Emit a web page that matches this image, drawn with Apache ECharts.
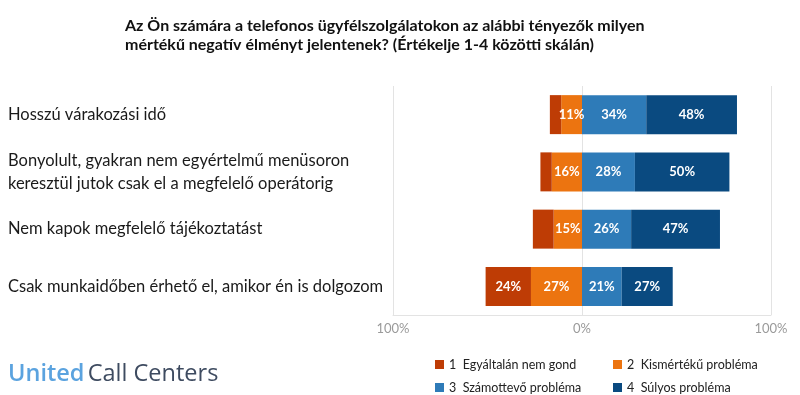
<!DOCTYPE html>
<html>
<head>
<meta charset="utf-8">
<script src="https://cdn.jsdelivr.net/npm/echarts@6/dist/echarts.min.js"></script>
<style>
html,body{margin:0;padding:0;background:#fff;}
#chart{width:800px;height:395px;}
</style>
</head>
<body>
<div id="chart"></div>
<script>
var titleText = 'Az Ön számára a telefonos ügyfélszolgálatokon az alábbi tényezők milyen\nmértékű negatív élményt jelentenek? (Értékelje 1-4 közötti skálán)';
var categories = [
  'Hosszú várakozási idő',
  'Bonyolult, gyakran nem egyértelmű menüsoron\nkeresztül jutok csak el a megfelelő operátorig',
  'Nem kapok megfelelő tájékoztatást',
  'Csak munkaidőben érhető el, amikor én is dolgozom'
];
var seriesNames = ['1  Egyáltalán nem gond', '2  Kismértékű probléma', '3  Számottevő probléma', '4  Súlyos probléma'];
var vals1 = [6, 6, 11, 24];   // Egyáltalán nem gond (drawn to the left)
var vals2 = [11, 16, 15, 27]; // Kismértékű probléma (drawn to the left)
var vals3 = [34, 28, 26, 21]; // Számottevő probléma
var vals4 = [48, 50, 47, 27]; // Súlyos probléma
var axisTicks = [-100, 0, 100];
var colors = ['#BE3C05', '#EC7410', '#2E7BB8', '#0A4A80'];

var neg = function(a){ return a.map(function(v){ return -v; }); };

var chart = echarts.init(document.getElementById('chart'), null, {renderer:'canvas'});
var lbl = function(minShow){
  return {
    show: true, position: 'inside', color: '#fff', fontWeight: 'bold',
    fontSize: 13, fontFamily: 'Lato',
    formatter: function(p){ var v = Math.abs(p.value); return v >= minShow ? v + '%' : ''; }
  };
};
var mk = function(i, data, minShow){
  return {
    name: seriesNames[i], type: 'bar', stack: 'all', data: data,
    barWidth: 39, itemStyle: {color: colors[i]}, label: lbl(minShow),
    emphasis: {disabled: true}
  };
};
var legendItem = function(i, left, top){
  return {
    data: [seriesNames[i]], left: left, top: top, itemWidth: 9, itemHeight: 9,
    icon: 'rect', itemGap: 6,
    textStyle: {fontFamily: 'Lato', fontSize: 12.5, color: '#222'}
  };
};

chart.setOption({
  animation: false,
  title: {
    text: titleText, left: 120, top: 11,
    textStyle: {fontFamily: 'Lato', fontWeight: 'bold', fontSize: 16, lineHeight: 19, color: '#111'}
  },
  legend: [
    legendItem(0, 430, 353),
    legendItem(1, 608, 353),
    legendItem(2, 430, 376),
    legendItem(3, 608, 376)
  ],
  grid: {left: 393, right: 29, top: 86, bottom: 80},
  xAxis: {
    type: 'value', min: -100, max: 100, interval: 100,
    axisLine: {show: true, lineStyle: {color: '#e3e3e3'}},
    axisTick: {show: false},
    splitLine: {show: true, lineStyle: {color: '#e3e3e3'}},
    axisLabel: {
      margin: 7, color: '#9a9a9a', fontSize: 13, fontFamily: 'Lato',
      customValues: axisTicks,
      formatter: function(v){ return Math.abs(v) + '%'; }
    }
  },
  yAxis: {
    type: 'category', data: categories, inverse: true,
    axisLine: {show: false}, axisTick: {show: false},
    axisLabel: {
      align: 'left', margin: 385, fontFamily: 'Lato', fontSize: 16.5,
      lineHeight: 23, color: '#1a1a1a'
    }
  },
  graphic: [{
    type: 'text', left: 8, top: 362,
    style: {
      text: '{a|United} {b|Call Centers}',
      rich: {
        a: {fontFamily: 'Open Sans', fontWeight: 600, fontSize: 23.5, fill: '#5BA3DF'},
        b: {fontFamily: 'Open Sans', fontWeight: 'normal', fontSize: 23.5, fill: '#3E4B60'}
      }
    }
  }],
  series: [
    mk(1, neg(vals2), 1),
    mk(0, neg(vals1), 15),
    mk(2, vals3, 1),
    mk(3, vals4, 1)
  ]
});
</script>
</body>
</html>
